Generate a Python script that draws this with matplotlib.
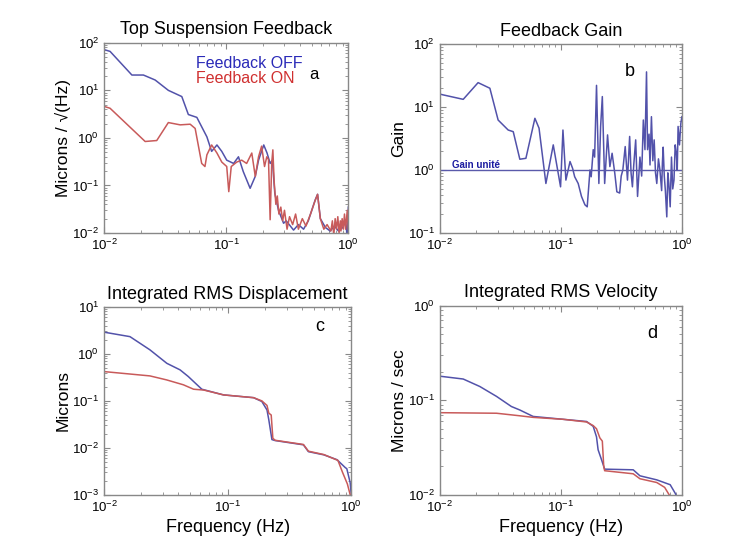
import matplotlib
matplotlib.use("Agg")
import matplotlib.pyplot as plt
from matplotlib.ticker import LogLocator, NullFormatter

plt.rcParams["font.family"] = ["Liberation Sans", "DejaVu Sans"]
plt.rcParams["mathtext.default"] = "regular"

# ---------------------------------------------------------------------------
# Data
# ---------------------------------------------------------------------------

# (a) Top suspension feedback spectrum, feedback OFF
f_off = [0.010, 0.0112, 0.0169, 0.021, 0.0262, 0.0336, 0.0433, 0.049, 0.0575,
         0.0695, 0.076, 0.084, 0.092, 0.101, 0.115, 0.126, 0.138, 0.157, 0.173,
         0.184, 0.203, 0.216, 0.229, 0.239, 0.25, 0.268, 0.295, 0.31, 0.356,
         0.39, 0.43, 0.47, 0.536, 0.56, 0.59, 0.65, 0.71, 0.77, 0.83, 0.90,
         0.95, 0.98, 1.0]
psd_off = [72, 66, 21, 21, 16.5, 10, 7.4, 3.1, 2.7,
           1.05, 0.52, 0.71, 0.52, 0.34, 0.29, 0.40, 0.195, 0.087, 0.155,
           0.34, 0.71, 0.48, 0.29, 0.34, 0.068, 0.03, 0.016, 0.018, 0.0115,
           0.015, 0.012, 0.018, 0.05, 0.065, 0.02, 0.013, 0.011, 0.014, 0.011,
           0.013, 0.018, 0.008, 0.035]

# (a) feedback ON
f_on = [0.010, 0.0112, 0.0217, 0.027, 0.0336, 0.042, 0.0507, 0.0557, 0.063,
        0.067, 0.0695, 0.076, 0.084, 0.092, 0.101, 0.105, 0.11, 0.122, 0.134,
        0.147, 0.162, 0.173, 0.184, 0.195, 0.206, 0.215, 0.222, 0.229, 0.236,
        0.241, 0.247, 0.255, 0.262, 0.27, 0.28, 0.29, 0.30, 0.315, 0.33, 0.35,
        0.37, 0.39, 0.42, 0.45, 0.49, 0.53, 0.56, 0.59, 0.63, 0.67, 0.72,
        0.74, 0.76, 0.78, 0.80, 0.82, 0.84, 0.86, 0.87, 0.89, 0.91, 0.93,
        0.95, 0.98, 1.0]
psd_on = [4.6, 4.2, 0.84, 0.88, 2.1, 1.88, 1.94, 1.58, 0.29,
          0.25, 0.44, 0.71, 0.48, 0.31, 0.25, 0.074, 0.25, 0.31, 0.34,
          0.29, 0.48, 0.155, 0.40, 0.67, 0.25, 0.40, 0.35, 0.019, 0.30,
          0.56, 0.12, 0.04, 0.06, 0.025, 0.035, 0.018, 0.03, 0.012, 0.022, 0.015,
          0.025, 0.012, 0.02, 0.014, 0.025, 0.045, 0.065, 0.02, 0.012, 0.015, 0.011,
          0.018, 0.009, 0.02, 0.012, 0.022, 0.01, 0.018, 0.011, 0.02, 0.012, 0.025,
          0.012, 0.03, 0.012]

# (b) Feedback gain
f_gain = [0.010, 0.0107, 0.0156, 0.0207, 0.0259, 0.0303, 0.0367, 0.0404, 0.0458,
          0.0514, 0.061, 0.066, 0.0752, 0.0865, 0.0994, 0.104, 0.11, 0.119,
          0.125, 0.13, 0.139, 0.148, 0.158, 0.165, 0.174, 0.178, 0.185, 0.19,
          0.197, 0.206, 0.213, 0.22, 0.23, 0.243, 0.254, 0.265, 0.279, 0.29,
          0.306, 0.315, 0.325, 0.34, 0.355, 0.37, 0.38, 0.39, 0.40, 0.415, 0.43,
          0.45, 0.465, 0.48, 0.495, 0.51, 0.52, 0.535, 0.545, 0.56, 0.575, 0.59,
          0.605, 0.62, 0.64, 0.658, 0.68, 0.69, 0.70, 0.715, 0.73, 0.75, 0.765,
          0.78, 0.80, 0.82, 0.84, 0.86, 0.88, 0.90, 0.915, 0.93, 0.955, 0.98, 1.0]
gain = [16, 15.5, 13.2, 24.3, 19.8, 6.2, 4.3, 4.05, 1.48,
        1.53, 6.6, 4.6, 0.61, 2.5, 0.54, 4.3, 0.69, 1.36,
        1.06, 0.78, 0.61, 0.38, 0.28, 0.26, 1.0, 0.78, 2.1, 1.6,
        22, 0.61, 4.9, 14.6, 0.61, 3.6, 1.13, 1.84, 0.88, 0.45,
        0.43, 0.8, 1.0, 2.35, 0.69, 3.4, 0.9, 0.54, 1.2, 3.0, 0.38,
        1.6, 0.8, 6.2, 2.1, 36, 2.1, 3.7, 1.2, 7.0, 1.4, 3.0,
        0.9, 0.61, 1.5, 1.0, 0.47, 1.3, 2.3, 0.8, 0.47, 0.18,
        0.9, 0.61, 0.26, 1.6, 0.5, 0.69, 2.5, 1.8, 1.0, 4.9,
        2.5, 5.5, 7.0]

# (c) Integrated RMS displacement
f_disp_off = [0.010, 0.0162, 0.0235, 0.0322, 0.0412, 0.048, 0.0546, 0.0618,
              0.0925, 0.162, 0.189, 0.208, 0.215, 0.228, 0.242, 0.41, 0.45,
              0.6, 0.766, 0.894, 0.92, 0.98, 1.0]
disp_off = [2.9, 2.33, 1.22, 0.63, 0.457, 0.33, 0.24, 0.177,
            0.134, 0.117, 0.097, 0.064, 0.04, 0.015, 0.0143, 0.0116, 0.0083,
            0.0071, 0.0056, 0.0038, 0.0036, 0.0018, 0.001]

f_disp_on = [0.010, 0.0235, 0.032, 0.0438, 0.053, 0.064, 0.0925, 0.162, 0.189,
             0.208, 0.215, 0.225, 0.232, 0.242, 0.41, 0.45, 0.6, 0.78, 0.85,
             0.93, 0.98, 1.0]
disp_on = [0.42, 0.34, 0.28, 0.22, 0.177, 0.17, 0.134, 0.117, 0.1,
           0.08, 0.055, 0.05, 0.016, 0.0145, 0.0118, 0.0085, 0.0072, 0.0054, 0.003,
           0.0017, 0.001, 0.0008]

# (d) Integrated RMS velocity
f_vel_off = [0.010, 0.0156, 0.0214, 0.0294, 0.039, 0.0458, 0.059, 0.104,
             0.163, 0.185, 0.197, 0.203, 0.217, 0.23, 0.396, 0.45, 0.62, 0.8,
             0.88, 0.92]
vel_off = [0.18, 0.168, 0.14, 0.11, 0.086, 0.079, 0.0675, 0.063,
           0.0597, 0.053, 0.041, 0.03, 0.0234, 0.0187, 0.0184, 0.0159, 0.0144,
           0.0128, 0.0104, 0.0092]

f_vel_on = [0.010, 0.0294, 0.0458, 0.059, 0.104, 0.163, 0.185, 0.197, 0.21,
            0.22, 0.226, 0.23, 0.396, 0.45, 0.62, 0.72, 0.785, 0.82]
vel_on = [0.074, 0.073, 0.0686, 0.066, 0.063, 0.059, 0.054, 0.05, 0.04,
          0.037, 0.02, 0.018, 0.0167, 0.0148, 0.0135, 0.012, 0.01, 0.0092]

BLUE = "#5252aa"
RED = "#c85a5a"

# ---------------------------------------------------------------------------
# Figure
# ---------------------------------------------------------------------------

fig = plt.figure(figsize=(7.38, 5.56), dpi=100)
pos = {
    "a": [0.141, 0.581, 0.331, 0.342],
    "b": [0.596, 0.581, 0.328, 0.340],
    "c": [0.141, 0.110, 0.335, 0.338],
    "d": [0.596, 0.110, 0.328, 0.340],
}
axes = {k: fig.add_axes(v) for k, v in pos.items()}


def _style(ax, ylim):
    ax.set_xscale("log")
    ax.set_yscale("log")
    ax.set_xlim(0.01, 1.0)
    ax.set_ylim(*ylim)
    ax.xaxis.set_major_locator(LogLocator(base=10, numticks=10))
    ax.yaxis.set_major_locator(LogLocator(base=10, numticks=10))
    for axis in (ax.xaxis, ax.yaxis):
        axis.set_minor_locator(LogLocator(base=10, subs=range(2, 10), numticks=20))
        axis.set_minor_formatter(NullFormatter())
    ax.tick_params(which="both", direction="in", top=True, right=True,
                   color="#888888", labelsize=9.5, pad=3.5)
    ax.tick_params(which="major", length=4)
    ax.tick_params(which="minor", length=2)
    for sp in ax.spines.values():
        sp.set_color("#888888")
        sp.set_linewidth(1.0)


# (a)
ax = axes["a"]
ax.plot(f_off, psd_off, color=BLUE, lw=1.1)
ax.plot(f_on, psd_on, color=RED, lw=1.1)
_style(ax, (0.01, 100))
ax.set_title("Top Suspension Feedback", fontsize=13, pad=6)
ax.set_ylabel("Microns / √(Hz)", fontsize=12.5, labelpad=1)
ax.text(0.375, 0.865, "Feedback OFF", color="#2a2ab8", fontsize=11.5,
        transform=ax.transAxes)
ax.text(0.375, 0.79, "Feedback ON", color="#d03030", fontsize=11.5,
        transform=ax.transAxes)
ax.text(0.842, 0.81, "a", color="black", fontsize=12, transform=ax.transAxes)

# (b)
ax = axes["b"]
ax.plot(f_gain, gain, color=BLUE, lw=1.1)
ax.axhline(1.0, color="#5a5aaa", lw=1)
_style(ax, (0.1, 100))
ax.set_title("Feedback Gain", fontsize=13, pad=6)
ax.set_ylabel("Gain", fontsize=12.5, labelpad=1)
ax.text(0.05, 1.07, "Gain unité", color="#1a1aa0", fontsize=7,
        fontweight="bold", transform=ax.get_yaxis_transform())
ax.text(0.765, 0.83, "b", fontsize=13, transform=ax.transAxes)

# (c)
ax = axes["c"]
ax.plot(f_disp_off, disp_off, color=BLUE, lw=1.1)
ax.plot(f_disp_on, disp_on, color=RED, lw=1.1)
_style(ax, (0.001, 10))
ax.set_title("Integrated RMS Displacement", fontsize=13, pad=6)
ax.set_ylabel("Microns", fontsize=12.5, labelpad=1)
ax.set_xlabel("Frequency (Hz)", fontsize=13, labelpad=3)
ax.text(0.855, 0.87, "c", fontsize=13, transform=ax.transAxes)

# (d)
ax = axes["d"]
ax.plot(f_vel_off, vel_off, color=BLUE, lw=1.1)
ax.plot(f_vel_on, vel_on, color=RED, lw=1.1)
_style(ax, (0.01, 1.0))
ax.set_title("Integrated RMS Velocity", fontsize=13, pad=6)
ax.set_ylabel("Microns / sec", fontsize=12.5, labelpad=1)
ax.set_xlabel("Frequency (Hz)", fontsize=13, labelpad=3)
ax.text(0.855, 0.83, "d", fontsize=13, transform=ax.transAxes)

fig.savefig("out.png", dpi=100)
